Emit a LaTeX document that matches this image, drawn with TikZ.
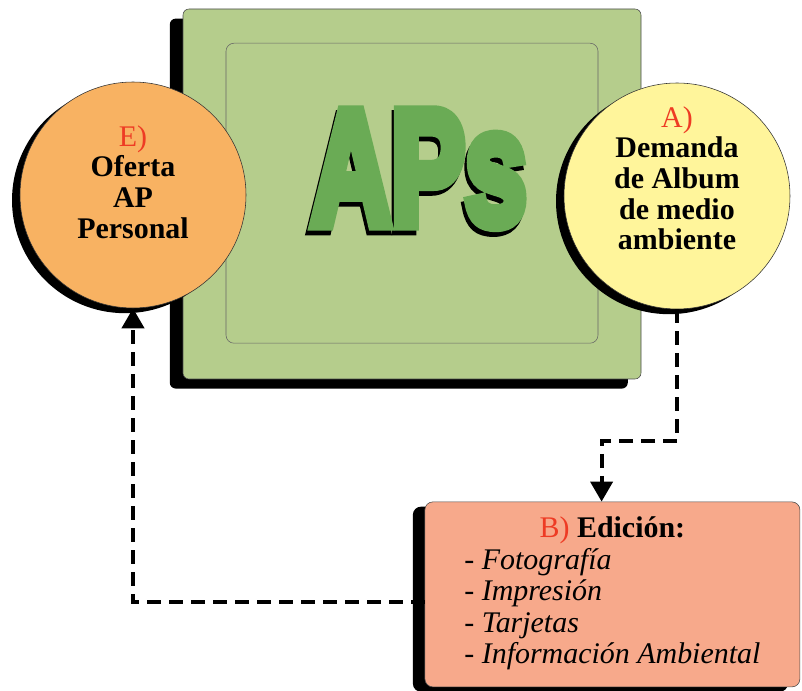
\documentclass[tikz,border=0pt]{standalone}
\usepackage{fontspec}
\setmainfont{Liberation Serif}
\newfontfamily\apsfont[BoldFeatures={FakeBold=8}]{Liberation Sans}
\usetikzlibrary{arrows.meta, positioning, shadows}
\definecolor{apgreen}{HTML}{B5CD8C}
\definecolor{apdark}{HTML}{6AAB55}
\definecolor{aporange}{HTML}{F8B262}
\definecolor{apyellow}{HTML}{FFF59B}
\definecolor{apsalmon}{HTML}{F7A98B}
\definecolor{apred}{HTML}{EE3B24}

\begin{document}
\begin{tikzpicture}[
    shade/.style={drop shadow={shadow xshift=-0.2cm, shadow yshift=-0.13cm,
                  fill=black, opacity=1}},
    frame/.style={rectangle, rounded corners=0.15cm, draw=black!70, fill=apgreen,
                  minimum width=11.45cm, minimum height=9.25cm, inner sep=0},
    inframe/.style={rectangle, rounded corners=0.2cm, draw=black!60, fill=apgreen,
                  minimum width=9.3cm, minimum height=7.5cm, inner sep=0},
    apstext/.style={anchor=base, inner sep=0, xscale=0.68, transform shape,
                  font=\apsfont\bfseries\fontsize{116}{116}\selectfont},
    circ/.style={circle, draw=black!80, minimum size=5.65cm, inner sep=0, shade},
    circtext/.style={align=center, inner sep=0,
                  font=\bfseries\fontsize{21.3}{21.8}\selectfont},
    edit/.style={rectangle, rounded corners=0.2cm, draw=black!70, fill=apsalmon,
                 minimum width=9.375cm, minimum height=4.625cm, inner sep=0,
                 font=\fontsize{21.3}{22.3}\selectfont,
                 drop shadow={shadow xshift=-0.3cm, shadow yshift=-0.12cm,
                 fill=black, opacity=1}},
    flow/.style={-{Triangle[width=0.55cm, length=0.5cm]}, line width=2.8pt,
                 dash pattern=on 0.35cm off 0.2cm}
  ]
    \useasboundingbox (0,0) rectangle (20.05,-17.275);

    % central block
    \node[frame, drop shadow={shadow xshift=-0.33cm, shadow yshift=-0.24cm,
          fill=black, opacity=1}] (main) at (10.3,-4.85) {};
    \node[inframe] (inner) at (10.3,-4.83) {};
    \node[apstext, black] (apsback) at (10.41,-5.72) {APs};
    \node[apstext, apdark] (aps) at (10.47,-5.6) {APs};

    % circles
    \node[circ, fill=aporange] (E) at (3.325,-4.875) {};
    \node[circtext] (Etext) at ([yshift=0.33cm]E) {\textcolor{apred}{\mdseries E)}\\Oferta\\AP\\Personal};
    \node[circ, fill=apyellow] (A) at (16.925,-4.9) {};
    \node[circtext] (Atext) at ([yshift=0.44cm]A) {\textcolor{apred}{\mdseries A)}\\Demanda\\de Album\\de medio\\ambiente};

    % edition box
    \node[edit] (B) at (15.31,-14.86) {\begin{tabular}{@{}l@{}}
        \multicolumn{1}{@{}c@{}}{\textcolor{apred}{B)} \textbf{Edición:}}\\
        \textit{- Fotografía}\\
        \textit{- Impresión}\\
        \textit{- Tarjetas}\\
        \textit{- Información Ambiental}
      \end{tabular}};

    \draw[flow] (A.south) -- ++(0,-3.3) -| ([xshift=-0.27cm]B.north);
    \draw[flow] ([yshift=-0.19cm]B.west) -| (E.south);
  \end{tikzpicture}
\end{document}
